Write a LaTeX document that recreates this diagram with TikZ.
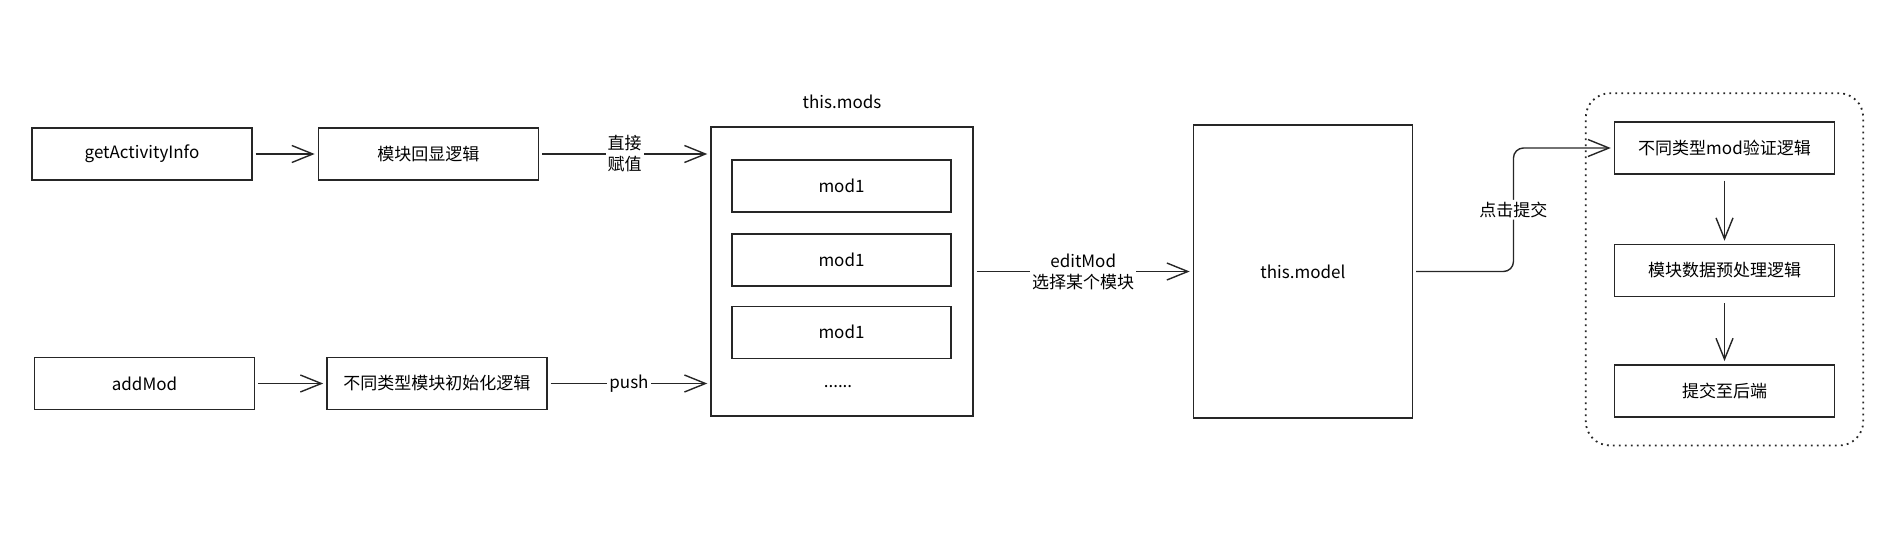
\documentclass[tikz,border=0pt]{standalone}
\usepackage{fontspec}
\setmainfont{Noto Sans CJK SC}
\usetikzlibrary{positioning, arrows.meta, fit, calc}

\begin{document}
\begin{tikzpicture}[
            x=1pt, y=-1pt,
            block/.style={rectangle, draw=black!85, line width=1.4pt, minimum height=52pt, minimum width=220pt, inner sep=0pt},
            arr/.style={draw=black!85, line width=1.4pt, -{Straight Barb[length=21pt, width=17pt, line width=1.4pt]}, shorten <=3pt, shorten >=3pt},
            lbl/.style={fill=white, inner sep=2pt, align=center},
            group/.style={draw=black!85, line width=1.8pt, dash pattern=on 1.8pt off 4.2pt, rounded corners=24pt, inner sep=28pt},
            font=\fontsize{17}{21}\selectfont,
            node distance=65pt and 65pt
        ]

        \useasboundingbox (0,0) rectangle (1878,549);

        \node[block] (get) at (142,154) {getActivityInfo};
        \node[block, right=65pt of get] (hui) {模块回显逻辑};

        \node[block] (add) at (144.5,383.5) {addMod};
        \node[block, right=71pt of add] (init) {不同类型模块初始化逻辑};

        \node[block, minimum width=262pt, minimum height=289pt] (mods) at (842,271.5) {};
        \node[above=14pt of mods] (modsname) {this.mods};
        \node[block, minimum width=219pt] (m1) at (841.5,186) {mod1};
        \node[block, minimum width=219pt, below=20.5pt of m1] (m2) {mod1};
        \node[block, minimum width=219pt, below=19pt of m2] (m3) {mod1};
        \node (more) at (838,387) {......};

        \node[block, minimum width=219pt, minimum height=293pt, right=219pt of mods] (model) {this.model};

        \node[block] (check) at (1724.5,148) {不同类型mod验证逻辑};
        \node[block, below=69pt of check] (pre) {模块数据预处理逻辑};
        \node[block, below=67pt of pre] (fin) {提交至后端};
        \node[group, fit=(check)(pre)(fin)] (grp) {};

        \draw[arr] (get) -- (hui);
        \draw[arr] (add) -- (init);
        \draw[arr] (hui) -- node[lbl] {直接\\赋值} (hui -| mods.west);
        \draw[arr] (init) -- node[lbl] {push} (init -| mods.west);
        \draw[arr] (mods) -- node[lbl] {editMod\\选择某个模块} (model);

        % submit path into the dotted group
        \draw[arr, rounded corners=10pt] (model.east) -- ($(model.east)!.5!(model.east -| check.west)$) |- node[lbl, pos=.25] {点击提交} (check.west);

        \draw[arr, shorten <=6pt] (check) -- (pre);
        \draw[arr, shorten <=6pt] (pre) -- (fin);

    \end{tikzpicture}
\end{document}
